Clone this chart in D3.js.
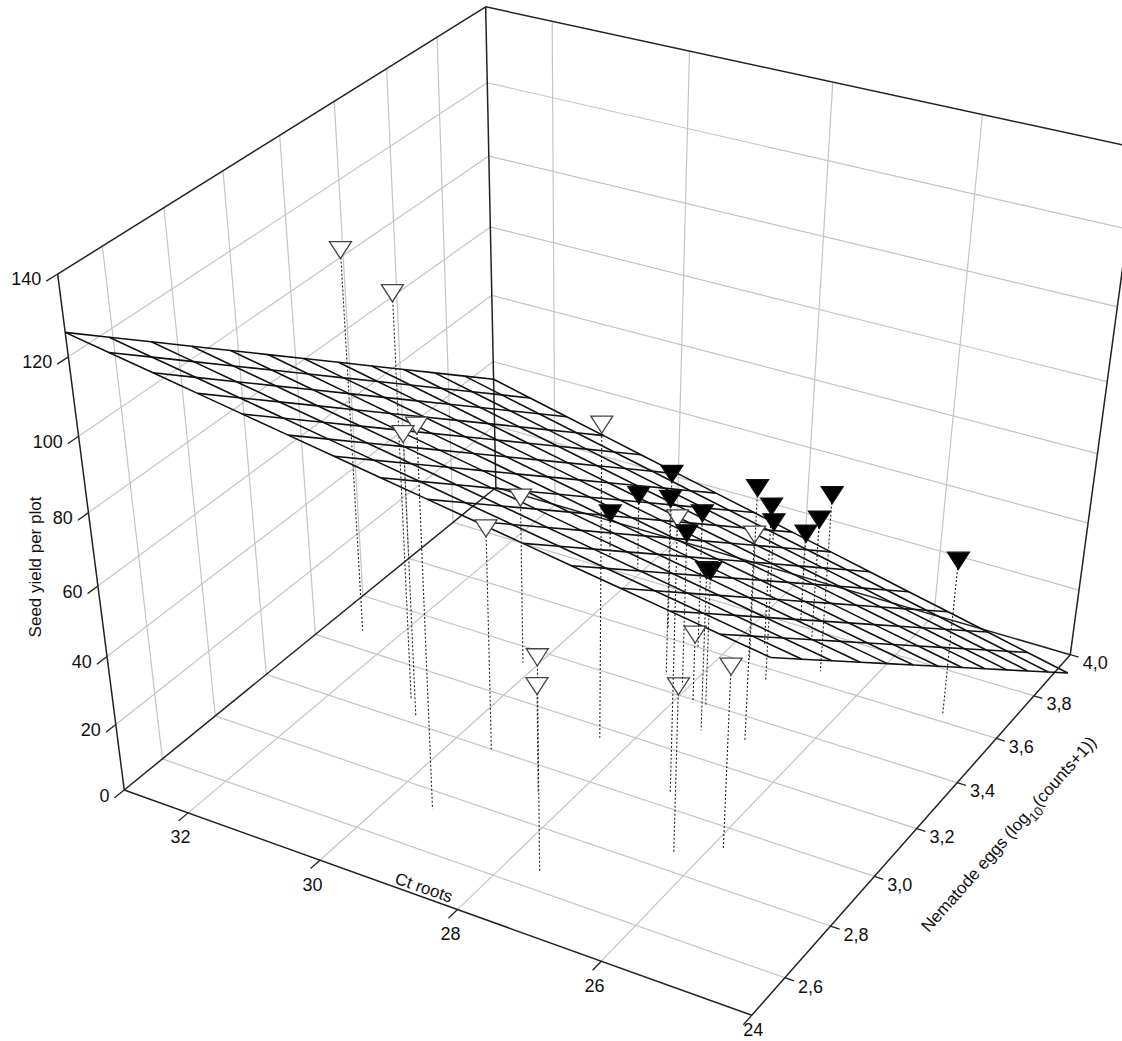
<!DOCTYPE html>
<html><head><meta charset="utf-8">
<script src="https://cdn.jsdelivr.net/npm/d3@7"></script>
<style>body{margin:0;background:#fff}text{font-family:"Liberation Sans",Arial,sans-serif;fill:#111}</style>
</head><body><svg id="c" width="1122" height="1041"></svg>
<script>
// ---- data ----
const ctDomain = [33, 24];
const nemDomain = [2.46, 4.0];
const yDomain = [0, 140];
const ctTicks = [32, 30, 28, 26, 24];
const nemTicks = [2.6, 2.8, 3.0, 3.2, 3.4, 3.6, 3.8, 4.0];
const yTicks = [0, 20, 40, 60, 80, 100, 120, 140];
// open triangles: [Ct, Nem, yield]
const openCt  = [32.5, 31.0, 29.4, 30.74, 28.4, 30.2, 29.47, 27.55, 28.45, 26.33, 27.0, 26.75, 27.77, 25.86];
const openNem = [3.27, 3.08, 2.74, 3.03, 3.16, 3.34, 3.00, 2.66, 2.91, 2.86, 3.05, 3.31, 3.39, 2.93];
const openY   = [110, 115, 107, 82, 90, 50, 65, 62, 32, 49, 79, 61, 21, 53];
// filled triangles
const fillCt  = [28.96, 30.1, 28.4, 30.58, 28.37, 28.09, 27.36, 27.58, 27.62, 27.64, 27.19, 26.68, 27.14, 27.46, 24.84];
const fillNem = [3.64, 3.84, 3.46, 3.85, 3.60, 3.44, 3.30, 3.39, 3.61, 3.69, 3.55, 3.65, 3.76, 3.81, 3.63];
const fillY   = [47, 23, 53, 14, 41, 46, 48, 41, 52, 42, 48, 53, 37, 28, 46];
// regression surface: yield = y0 + bCt*(Ct-33) + bNem*(Nem-2.46) + bInt*(33-Ct)*(Nem-2.46)
const planeY0 = 126, planeBCt = 3.2, planeBNem = -59.42, planeBInt = -0.83;
const planeDivCt = 15, planeDivNem = 12;

// ---- projection calibration (perspective camera fitted to box anchors) ----
const u = d3.scaleLinear().domain(ctDomain).range([0, 1]);
const v = d3.scaleLinear().domain(nemDomain).range([0, 1]);
const w = d3.scaleLinear().domain(yDomain).range([0, 1]);
const anchors = [
  [[33,2.46,0],[125,792]],[[24,2.46,0],[752,1008]],[[24,4.0,0],[1067,652]],
  [[33,4.0,0],[495,487]],[[33,2.46,140],[57,272]],[[33,4.0,140],[486,8]],
  [[24,4.0,140],[1139,149]],
  [[32,2.46,0],[187,813]],[[30,2.46,0],[321,860]],[[28,2.46,0],[459,908]],[[26,2.46,0],[602,960]],
  [[24,3.8,0],[1037,695]],[[24,3.6,0],[1000,738]],[[24,3.4,0],[956,783]],[[24,3.2,0],[916,830]],
  [[24,3.0,0],[874,878]],[[24,2.8,0],[829,930]],[[24,2.6,0],[783,983]]
];
function solveDLT(){
  const rows=[], rhs=[];
  anchors.forEach(([p,s])=>{
    const X=u(p[0]),Y=v(p[1]),Z=w(p[2]),x=s[0]/1000,y=s[1]/1000;
    rows.push([X,Y,Z,1,0,0,0,0,-x*X,-x*Y,-x*Z]); rhs.push(x);
    rows.push([0,0,0,0,X,Y,Z,1,-y*X,-y*Y,-y*Z]); rhs.push(y);
  });
  const n=11, M=[];
  for(let i=0;i<n;i++){M.push(new Array(n+1).fill(0));
    for(let j=0;j<n;j++) rows.forEach((r)=>M[i][j]+=r[i]*r[j]);
    rows.forEach((r,k)=>M[i][n]+=r[i]*rhs[k]);}
  for(let c=0;c<n;c++){let piv=c;for(let r=c+1;r<n;r++) if(Math.abs(M[r][c])>Math.abs(M[piv][c])) piv=r;
    [M[c],M[piv]]=[M[piv],M[c]];
    for(let r=0;r<n;r++){ if(r===c) continue; const f=M[r][c]/M[c][c]; for(let k=c;k<=n;k++) M[r][k]-=f*M[c][k];}}
  return M.map((r,i)=>r[n]/r[i]);
}
const P=solveDLT();
function proj(ct,nem,y){
  const X=u(ct),Y=v(nem),Z=w(y);
  const d=P[8]*X+P[9]*Y+P[10]*Z+1;
  return [1000*(P[0]*X+P[1]*Y+P[2]*Z+P[3])/d, 1000*(P[4]*X+P[5]*Y+P[6]*Z+P[7])/d];
}
const svg=d3.select("#c");
const line=d3.line();
function seg(g,a,b,stroke,sw,dash){
  g.append("path").attr("d",line([proj(...a),proj(...b)])).attr("stroke",stroke).attr("stroke-width",sw)
   .attr("fill","none").attr("stroke-dasharray",dash||null);
}
const [c0,c1]=ctDomain,[n0,n1]=nemDomain,[y0,y1]=yDomain;
const grid=svg.append("g");
const gc="#c4c4c4";
ctTicks.filter(t=>t!==24).forEach(t=>seg(grid,[t,n0,0],[t,n1,0],gc,1.2));
nemTicks.filter(t=>t!==4.0).forEach(t=>seg(grid,[c0,t,0],[c1,t,0],gc,1.2));
nemTicks.filter(t=>t!==4.0).forEach(t=>seg(grid,[c0,t,y0],[c0,t,y1],gc,1.2));
yTicks.filter(t=>t>0&&t<140).forEach(t=>seg(grid,[c0,n0,t],[c0,n1,t],gc,1.2));
ctTicks.filter(t=>t!==24).forEach(t=>seg(grid,[t,n1,y0],[t,n1,y1],gc,1.2));
yTicks.filter(t=>t>0&&t<140).forEach(t=>seg(grid,[c0,n1,t],[c1,n1,t],gc,1.2));
const ed=svg.append("g");
[[[c0,n0,0],[c1,n0,0]],[[c1,n0,0],[c1,n1,0]],[[c0,n0,0],[c0,n1,0]],[[c0,n1,0],[c1,n1,0]],
 [[c0,n0,0],[c0,n0,140]],[[c0,n1,0],[c0,n1,140]],[[c1,n1,0],[c1,n1,140]],
 [[c0,n0,140],[c0,n1,140]],[[c0,n1,140],[c1,n1,140]]].forEach(([a,b])=>seg(ed,a,b,"#222",1.5));
const tk=svg.append("g");
ctTicks.forEach(t=>{seg(tk,[t,n0,0],[t,n0-0.035,0],"#222",1.3);
  const p=proj(t,n0-0.035,0);
  tk.append("text").attr("x",p[0]+(t===24?10:2)).attr("y",Math.min(p[1]+22,1036)).attr("text-anchor","middle").attr("font-size",18).text(t);});
nemTicks.forEach(t=>{seg(tk,[c1,t,0],[c1-0.12,t,0],"#222",1.3);
  const p=proj(c1-0.12,t,0);
  tk.append("text").attr("x",p[0]+4).attr("y",p[1]+12).attr("font-size",18).text(d3.format(".1f")(t).replace(".",","));});
yTicks.forEach(t=>{seg(tk,[c0,n0,t],[c0,n0-0.035,t],"#222",1.3);
  const p=proj(c0,n0-0.035,t);
  tk.append("text").attr("x",p[0]-5).attr("y",p[1]+4).attr("text-anchor","end").attr("font-size",18).text(t);});
svg.append("text").attr("transform","translate(41,567) rotate(-90)").attr("text-anchor","middle").attr("font-size",17).text("Seed yield per plot");
svg.append("text").attr("transform","translate(422,893) rotate(19)").attr("text-anchor","middle").attr("font-size",17).text("Ct roots");
const nt=svg.append("text").attr("transform","translate(1013,838) rotate(-48.5)").attr("text-anchor","middle").attr("font-size",17);
nt.append("tspan").text("Nematode eggs (log");
nt.append("tspan").attr("dy",6).attr("font-size",13).text("10");
nt.append("tspan").attr("dy",-6).text("(counts+1))");
const pl=svg.append("g");
const pz=(ct,nem)=>planeY0+planeBCt*(ct-33)+planeBNem*(nem-2.46)+planeBInt*(33-ct)*(nem-2.46);
const cs=d3.range(planeDivCt+1).map(i=>c0+(c1-c0)*i/planeDivCt);
const ns=d3.range(planeDivNem+1).map(i=>n0+(n1-n0)*i/planeDivNem);
const pline=(pts)=>pl.append("path").attr("d",line(pts.map(p=>proj(...p)))).attr("stroke","#111").attr("stroke-width",1.6).attr("fill","none");
cs.forEach(c=>pline(ns.map(n=>[c,n,pz(c,n)])));
ns.forEach(n=>pline(cs.map(c=>[c,n,pz(c,n)])));
const pts=svg.append("g");
function tri(ct,nem,y,filled){
  seg(pts,[ct,nem,y],[ct,nem,0],"#222",1.1,"2,2");
  const p=proj(ct,nem,y);
  pts.append("path").attr("d",`M${p[0]-11},${p[1]-8}L${p[0]+11},${p[1]-8}L${p[0]},${p[1]+9}Z`)
    .attr("fill",filled?"#000":"#fff").attr("stroke",filled?"#111":"#444").attr("stroke-width",1.3);
}
openCt.forEach((c,i)=>tri(c,openNem[i],openY[i],false));
fillCt.forEach((c,i)=>tri(c,fillNem[i],fillY[i],true));
</script></body></html>
